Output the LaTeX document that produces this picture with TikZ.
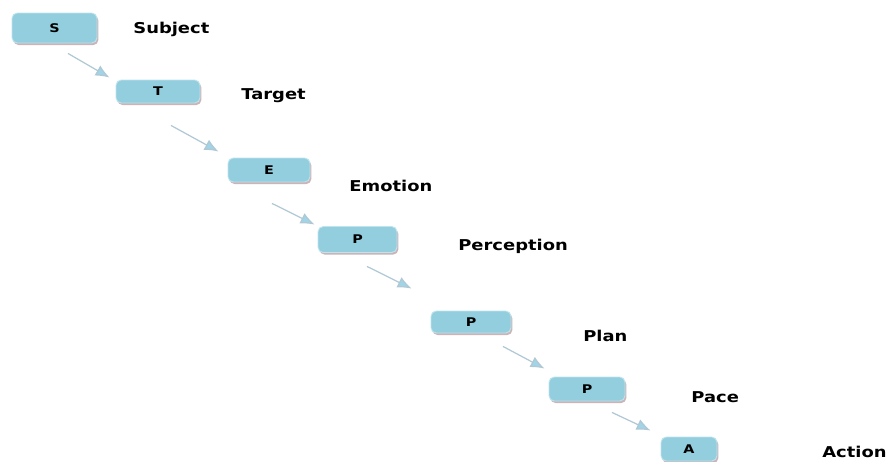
\documentclass[tikz,border=0pt]{standalone}
\usepackage{fontspec}
\setmainfont[FakeStretch=1.2]{DejaVu Sans}
\usetikzlibrary{arrows.meta, shadows}
\definecolor{boxblue}{RGB}{146,206,222}
\definecolor{boxedge}{RGB}{190,228,238}
\definecolor{shadowcolor}{RGB}{190,160,165}
\definecolor{linecolor}{RGB}{175,200,212}
\definecolor{tipcolor}{RGB}{160,212,230}
\tikzset{
    stepbox/.style={rectangle, draw=boxedge, fill=boxblue, rounded corners=3pt, line width=0.5pt,
        inner sep=0pt, font=\bfseries\fontsize{6.8}{8}\selectfont,
        drop shadow={shadow xshift=0.8pt, shadow yshift=-1.2pt, fill=shadowcolor, opacity=0.8}},
    label/.style={anchor=west, inner sep=0pt, font=\bfseries\fontsize{8.5}{10}\selectfont},
    arrow/.style={-{Latex[length=2.8mm, width=2.3mm, fill=tipcolor]}, draw=linecolor, line width=0.7pt}
}

\begin{document}
\begin{tikzpicture}[x=0.02cm, y=-0.02cm]

    \useasboundingbox (0,0) rectangle (889,461);

    % boxes
    \node[stepbox, minimum width=1.70cm, minimum height=0.60cm] (s) at (54.5,28) {S};
    \node[stepbox, minimum width=1.68cm, minimum height=0.46cm] (t) at (158,91.5) {T};
    \node[stepbox, minimum width=1.64cm, minimum height=0.48cm] (e) at (269,170) {E};
    \node[stepbox, minimum width=1.58cm, minimum height=0.52cm] (p1) at (357.5,239.5) {P};
    \node[stepbox, minimum width=1.60cm, minimum height=0.44cm] (p2) at (471,322) {P};
    \node[stepbox, minimum width=1.52cm, minimum height=0.48cm] (p3) at (587,389) {P};
    \node[stepbox, minimum width=1.12cm, minimum height=0.48cm] (a) at (689,449) {A};

    % labels
    \node[label] (subj) at (133,29) {Subject};
    \node[label] (targ) at (241,96) {Target};
    \node[label] (emot) at (349,186) {Emotion};
    \node[label] (perc) at (458,246) {Perception};
    \node[label] (plan) at (583,336) {Plan};
    \node[label] (pace) at (691,397) {Pace};
    \node[label] (actn) at (822,452) {Action};

    % arrows
    \draw[arrow] ([shift={(13.5,10)}]s.south) -- ([shift={(-6,-2)}]t.north west);
    \draw[arrow] ([shift={(13,22)}]t.south) -- ([shift={(-9,-6)}]e.north west);
    \draw[arrow] ([shift={(3,21)}]e.south) -- ([shift={(-3,-1.5)}]p1.north west);
    \draw[arrow] ([shift={(9.5,13.5)}]p1.south) -- ([shift={(-19,-22)}]p2.north west);
    \draw[arrow] ([shift={(32,13)}]p2.south) -- ([shift={(-4,-8)}]p3.north west);
    \draw[arrow] ([shift={(25,11)}]p3.south) -- ([shift={(-10,-6)}]a.north west);

\end{tikzpicture}
\end{document}
